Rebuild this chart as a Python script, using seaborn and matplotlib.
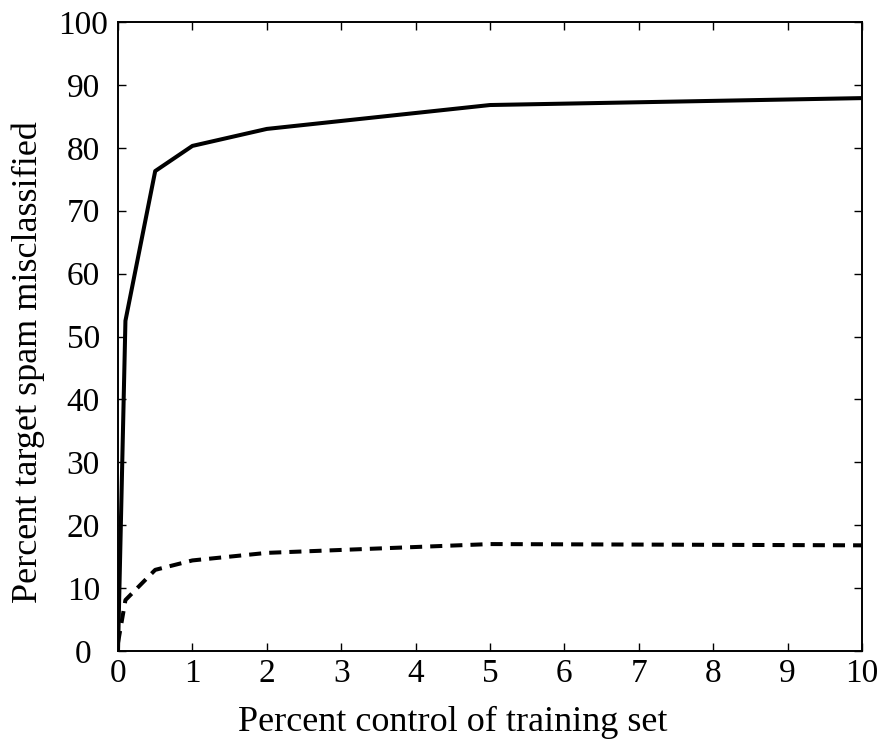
import matplotlib
matplotlib.use("Agg")
import matplotlib.pyplot as plt
import seaborn as sns
import pandas as pd

x_vals = [0, 0.1, 0.5, 1, 2, 5, 10]
solid_vals = [0, 52.5, 76.3, 80.3, 83.0, 86.8, 87.9]
dashed_vals = [1.3, 8.1, 12.9, 14.4, 15.6, 17.0, 16.8]
series_names = ["solid", "dashed"]

sns.set_style("ticks")
plt.rcParams['font.family'] = ['Liberation Serif', 'DejaVu Serif']
plt.rcParams['text.color'] = 'black'
plt.rcParams['axes.labelcolor'] = 'black'

df = pd.DataFrame({
    "x": x_vals * 2,
    "y": solid_vals + dashed_vals,
    "series": [series_names[0]] * len(x_vals) + [series_names[1]] * len(x_vals),
})

fig = plt.figure(figsize=(8.92, 7.42), dpi=100)
ax = fig.add_axes([118/892, 1 - 651/742, (862-118)/892, (651-22)/742])

sns.lineplot(data=df, x="x", y="y", style="series", ax=ax, color="black",
             linewidth=2.9, dashes={"solid": "", "dashed": (3, 2)}, legend=False)

ax.set_xlim(0, 10)
ax.set_ylim(0, 100)
ax.set_xticks(range(0, 11))
ax.set_yticks(range(0, 101, 10))
ax.tick_params(direction="in", top=True, right=True, length=6, width=1,
               labelsize=24, colors="black", labelcolor="black")
ax.tick_params(axis="x", pad=5.5)
ax.tick_params(axis="y", pad=25)
for lbl in ax.get_yticklabels():
    lbl.set_horizontalalignment("center")
for s in ax.spines.values():
    s.set_visible(True)
    s.set_linewidth(1.4)
    s.set_color("black")
ax.set_xlabel("Percent control of training set", fontsize=26, color="black")
ax.set_ylabel("Percent target spam misclassified", fontsize=26, color="black")
ax.xaxis.set_label_coords(0.45, -0.087)
ax.yaxis.set_label_coords(-0.098, 0.459)

fig.savefig("out.png", dpi=100)
